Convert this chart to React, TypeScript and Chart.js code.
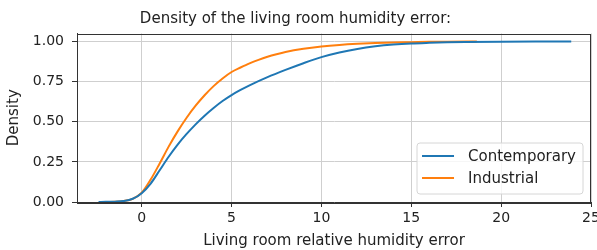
import React, { useEffect, useRef } from "react";
import { Chart, registerables } from "chart.js";

Chart.register(...registerables);

const seriesLabels = ["Contemporary", "Industrial"];

const contemporaryX = [-2.4, -2, -1.5, -1, -0.5, 0, 0.5, 1, 1.5, 2, 2.5, 3, 3.5, 4, 4.5, 5, 5.5, 6, 7, 8, 9, 10, 11, 12, 13, 14, 15, 16, 17, 18, 20, 22, 23.9];
const contemporaryY = [0.0, 0.001, 0.002, 0.006, 0.02, 0.055, 0.115, 0.198, 0.282, 0.358, 0.424, 0.484, 0.538, 0.586, 0.629, 0.666, 0.698, 0.727, 0.778, 0.823, 0.865, 0.903, 0.932, 0.954, 0.97, 0.981, 0.988, 0.992, 0.995, 0.997, 0.999, 1.0, 1.0];

const industrialX = [-1.9, -1.5, -1, -0.5, 0, 0.5, 1, 1.5, 2, 2.5, 3, 3.5, 4, 4.5, 5, 5.5, 6, 6.5, 7, 7.5, 8, 9, 10, 11, 12, 13, 14, 15, 16, 17, 18.65];
const industrialY = [0.0, 0.001, 0.006, 0.02, 0.058, 0.14, 0.24, 0.345, 0.44, 0.525, 0.6, 0.665, 0.722, 0.77, 0.81, 0.838, 0.864, 0.886, 0.905, 0.921, 0.935, 0.955, 0.969, 0.979, 0.986, 0.991, 0.994, 0.996, 0.998, 0.999, 1.0];

const xTicks = [0, 5, 10, 15, 20, 25];
const yTicks = [0, 0.25, 0.5, 0.75, 1.0];

const titleText = "Density of the living room humidity error:";
const xLabel = "Living room relative humidity error";
const yLabel = "Density";

const colors = ["#1f77b4", "#ff7f0e"];
const FONT = "'DejaVu Sans', sans-serif";

const framePlugin = {
  id: "frame",
  afterDatasetsDraw(chart: any) {
    const { ctx, chartArea } = chart;
    ctx.save();
    ctx.strokeStyle = "#333333";
    ctx.lineWidth = 1;
    ctx.strokeRect(
      Math.round(chartArea.left) + 0.5,
      Math.round(chartArea.top) + 0.5,
      Math.round(chartArea.right - chartArea.left) - 1,
      Math.round(chartArea.bottom - chartArea.top)
    );
    ctx.restore();
  },
};

const legendPlugin = {
  id: "insideLegend",
  afterDraw(chart: any) {
    const { ctx, chartArea } = chart;
    const ds = chart.data.datasets;
    ctx.save();
    ctx.font = `15px ${FONT}`;
    let maxW = 0;
    ds.forEach((d: any) => {
      maxW = Math.max(maxW, ctx.measureText(d.label).width);
    });
    const w = 5 + 32 + 14 + maxW + 7;
    const h = 51;
    const x = chartArea.right - 8 - w;
    const y = chartArea.bottom - 8 - h;
    ctx.beginPath();
    const r = 3;
    ctx.moveTo(x + r, y);
    ctx.lineTo(x + w - r, y);
    ctx.arcTo(x + w, y, x + w, y + r, r);
    ctx.lineTo(x + w, y + h - r);
    ctx.arcTo(x + w, y + h, x + w - r, y + h, r);
    ctx.lineTo(x + r, y + h);
    ctx.arcTo(x, y + h, x, y + h - r, r);
    ctx.lineTo(x, y + r);
    ctx.arcTo(x, y, x + r, y, r);
    ctx.closePath();
    ctx.fillStyle = "rgba(255,255,255,0.8)";
    ctx.fill();
    ctx.strokeStyle = "#d6d6d6";
    ctx.lineWidth = 1;
    ctx.stroke();
    ds.forEach((d: any, i: number) => {
      const ly = y + 13 + i * 22;
      ctx.beginPath();
      ctx.strokeStyle = d.borderColor;
      ctx.lineWidth = 2;
      ctx.moveTo(x + 5, ly);
      ctx.lineTo(x + 37, ly);
      ctx.stroke();
      ctx.fillStyle = "#222222";
      ctx.textBaseline = "middle";
      ctx.textAlign = "left";
      ctx.fillText(d.label, x + 51, ly + 1);
    });
    ctx.restore();
  },
};

export default function App() {
  const ref = useRef<HTMLCanvasElement>(null);
  useEffect(() => {
    if (!ref.current) return;
    const chart = new Chart(ref.current, {
      type: "line",
      data: {
        datasets: [
          {
            label: seriesLabels[0],
            data: contemporaryX.map((x, i) => ({ x, y: contemporaryY[i] })),
            borderColor: colors[0],
            backgroundColor: colors[0],
            borderWidth: 2,
            pointRadius: 0,
            cubicInterpolationMode: "monotone",
          },
          {
            label: seriesLabels[1],
            data: industrialX.map((x, i) => ({ x, y: industrialY[i] })),
            borderColor: colors[1],
            backgroundColor: colors[1],
            borderWidth: 2,
            pointRadius: 0,
            cubicInterpolationMode: "monotone",
          },
        ],
      },
      options: {
        animation: false,
        responsive: false,
        maintainAspectRatio: false,
        layout: { padding: { left: 0, right: 6, top: 0, bottom: 0 } },
        plugins: {
          legend: { display: false },
          tooltip: { enabled: false },
          title: {
            display: true,
            text: titleText,
            color: "#222222",
            font: { family: FONT, size: 15, weight: "normal" },
            padding: { top: 10, bottom: 5.5 },
          },
        },
        scales: {
          x: {
            type: "linear",
            min: -3.6,
            max: 25,
            afterBuildTicks: (s: any) => {
              s.ticks = xTicks.map((v) => ({ value: v }));
            },
            afterFit: (s: any) => {
              s.height = 48;
              s.paddingLeft = 0;
              s.paddingRight = 0;
            },
            grid: {
              color: "#cfcfcf",
              lineWidth: 1,
              tickLength: 5,
              tickColor: "#333333",
            },
            border: { display: true, color: "#333333", width: 1 },
            ticks: {
              color: "#222222",
              font: { family: FONT, size: 14 },
              padding: 3,
              maxRotation: 0,
              autoSkip: false,
              callback: (v: any) => String(v),
            },
            title: {
              display: true,
              text: xLabel,
              color: "#222222",
              font: { family: FONT, size: 15 },
              padding: { top: 0, bottom: 0 },
            },
          },
          y: {
            type: "linear",
            min: 0,
            max: 1.05,
            afterBuildTicks: (s: any) => {
              s.ticks = yTicks.map((v) => ({ value: v }));
            },
            afterFit: (s: any) => {
              s.width = 77;
              s.paddingTop = 0;
              s.paddingBottom = 0;
            },
            grid: {
              color: "#cfcfcf",
              lineWidth: 1,
              tickLength: 5,
              tickColor: "#333333",
            },
            border: { display: true, color: "#333333", width: 1 },
            ticks: {
              color: "#222222",
              font: { family: FONT, size: 14 },
              padding: 8,
              autoSkip: false,
              callback: (v: any) => Number(v).toFixed(2),
            },
            title: {
              display: true,
              text: yLabel,
              color: "#222222",
              font: { family: FONT, size: 15 },
              padding: { top: 5, bottom: 0 },
            },
          },
        },
      },
      plugins: [framePlugin, legendPlugin],
    });
    return () => chart.destroy();
  }, []);
  return (
    <div style={{ position: "fixed", left: 0, top: 0, width: 597, height: 250, background: "#fff" }}>
      <canvas ref={ref} width={597} height={250} style={{ width: 597, height: 250, display: "block" }} />
    </div>
  );
}
